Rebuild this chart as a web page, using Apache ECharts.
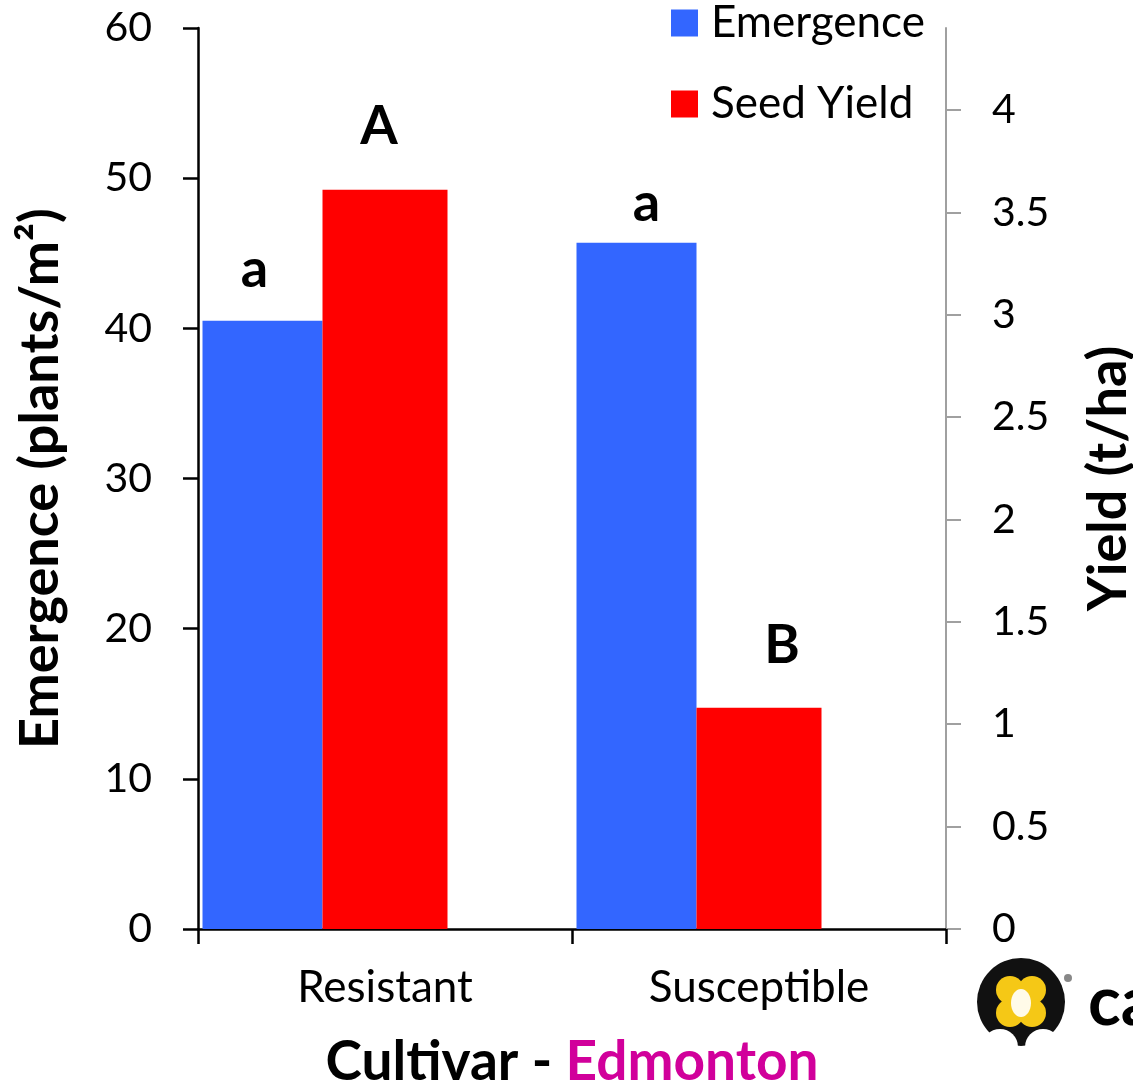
<!DOCTYPE html>
<html>
<head>
<meta charset="utf-8">
<script src="https://cdn.jsdelivr.net/npm/echarts@6/dist/echarts.min.js"></script>
<style>
html,body{margin:0;padding:0;background:#fff;overflow:hidden;}
#chart{width:1133px;height:1090px;}
</style>
</head>
<body>
<div id="chart"></div>
<script>
// ---- data ----
const categories = ['Resistant', 'Susceptible'];
const emergence = [40.5, 45.7];
const seedYield = [3.61, 1.08];
const emergenceLetters = ['a', 'a'];
const yieldLetters = ['A', 'B'];
const emergenceTicks = [0, 10, 20, 30, 40, 50, 60];
const yieldTicks = [0, 0.5, 1, 1.5, 2, 2.5, 3, 3.5, 4];

// ---- layout (label nudges) ----
const emLabelOffset = [[-8, -19], [10, -7]];
const yLabelOffset = [[-6, -31], [23, -30]];

const FONT = 'Lato';
const BLUE = '#3366ff';
const RED = '#ff0000';

function letterLabel(text, off) {
  return {
    show: true, position: 'top', distance: 5, offset: off,
    formatter: text, fontFamily: FONT, fontWeight: 'bold', fontSize: 54, color: '#000'
  };
}

const chart = echarts.init(document.getElementById('chart'), null, { width: 1133, height: 1090 });
chart.setOption({
  animation: false,
  backgroundColor: '#fff',
  grid: { left: 198, right: 1133 - 946, top: 28, bottom: 1090 - 929, containLabel: false, outerBoundsMode: 'none' },
  legend: {
    data: ['Emergence', 'Seed Yield'],
    orient: 'vertical', left: 671, top: 1, padding: 0,
    itemWidth: 27, itemHeight: 27, itemGap: 37,
    icon: 'rect',
    textStyle: { fontFamily: FONT, fontSize: 44, color: '#000', padding: [0, 0, 0, 8] }
  },
  xAxis: {
    type: 'category',
    data: categories,
    axisLine: { lineStyle: { color: '#000', width: 2.5 } },
    axisTick: { show: true, length: 15, lineStyle: { color: '#000', width: 2.5 } },
    axisLabel: { fontFamily: FONT, fontSize: 44, color: '#000', margin: 37 },
    name: '{a|Cultivar - }{b|Edmonton}',
    nameLocation: 'middle', nameGap: 106,
    nameTextStyle: {
      rich: {
        a: { fontFamily: FONT, fontWeight: 'bold', fontSize: 55, color: '#000' },
        b: { fontFamily: FONT, fontWeight: 'bold', fontSize: 55, color: '#d1009b' }
      }
    }
  },
  yAxis: [
    {
      type: 'value', min: emergenceTicks[0], max: emergenceTicks[emergenceTicks.length - 1], interval: 10,
      position: 'left',
      axisLine: { show: true, lineStyle: { color: '#000', width: 2.5 } },
      axisTick: { show: true, length: 15, lineStyle: { color: '#000', width: 2.5 } },
      axisLabel: { fontFamily: FONT, fontSize: 41, color: '#000', margin: 46 },
      splitLine: { show: false },
      name: 'Emergence (plants/m²)', nameLocation: 'middle', nameGap: 130, nameRotate: 90,
      nameTextStyle: { fontFamily: FONT, fontWeight: 'bold', fontSize: 54, color: '#000' }
    },
    {
      type: 'value', min: 0, max: 4.4, interval: 0.5,
      position: 'right',
      axisLine: { show: true, lineStyle: { color: '#a0a0a0', width: 2 } },
      axisTick: { show: true, length: 15, lineStyle: { color: '#a0a0a0', width: 2 }, customValues: yieldTicks },
      axisLabel: { fontFamily: FONT, fontSize: 41, color: '#000', margin: 46, customValues: yieldTicks },
      splitLine: { show: false },
      name: 'Yield (t/ha)', nameLocation: 'middle', nameGap: 136, nameRotate: 90,
      nameTextStyle: { fontFamily: FONT, fontWeight: 'bold', fontSize: 54, color: '#000' }
    }
  ],
  series: [
    {
      name: 'Emergence', type: 'bar', yAxisIndex: 0, barWidth: 120, barGap: '0%',
      itemStyle: { color: BLUE },
      data: emergence.map((v, i) => ({ value: v, label: letterLabel(emergenceLetters[i], emLabelOffset[i]) }))
    },
    {
      name: 'Seed Yield', type: 'bar', yAxisIndex: 1, barWidth: 125, barGap: '0%',
      itemStyle: { color: RED },
      data: seedYield.map((v, i) => ({ value: v, label: letterLabel(yieldLetters[i], yLabelOffset[i]) }))
    },
    {
      name: 'spacer', type: 'bar', yAxisIndex: 0, barWidth: 120, barGap: '0%',
      itemStyle: { color: 'transparent' }, silent: true,
      data: categories.map(() => null)
    }
  ],
  graphic: [
    { type: 'circle', shape: { cx: 1021, cy: 1002, r: 44 }, style: { fill: '#111' } },
    { type: 'circle', shape: { cx: 1010, cy: 990, r: 14 }, style: { fill: '#f5c816' } },
    { type: 'circle', shape: { cx: 1032, cy: 990, r: 14 }, style: { fill: '#f5c816' } },
    { type: 'circle', shape: { cx: 1010, cy: 1013, r: 14 }, style: { fill: '#f5c816' } },
    { type: 'circle', shape: { cx: 1032, cy: 1013, r: 14 }, style: { fill: '#f5c816' } },
    { type: 'ellipse', shape: { cx: 1021, cy: 1003, rx: 10, ry: 14 }, style: { fill: '#fffbe8' } },
    { type: 'circle', shape: { cx: 1000, cy: 1047, r: 18 }, style: { fill: '#fff' } },
    { type: 'circle', shape: { cx: 1043, cy: 1047, r: 18 }, style: { fill: '#fff' } },
    { type: 'rect', shape: { x: 970, y: 1050, width: 110, height: 40 }, style: { fill: '#fff' } },
    { type: 'circle', shape: { cx: 1068, cy: 978, r: 4 }, style: { fill: '#888' } },
    { type: 'text', x: 1088, y: 1003, style: { text: 'ca', font: 'bold 68px Lato', fill: '#000', verticalAlign: 'middle', align: 'left' } }
  ]
});
</script>
</body>
</html>
